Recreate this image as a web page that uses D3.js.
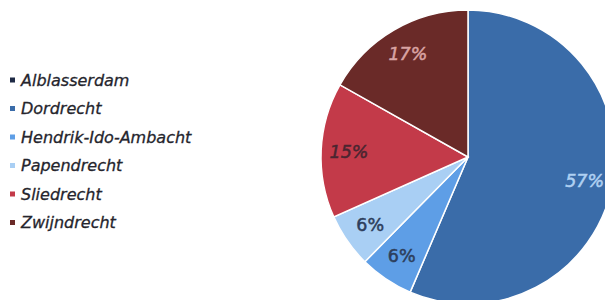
<!DOCTYPE html>
<html>
<head>
<meta charset="utf-8">
<script src="https://d3js.org/d3.v7.min.js"></script>
<style>
body { margin: 0; background: #fff; }
svg { display: block; }
</style>
</head>
<body>
<script>
var width = 605, height = 300;

var gemeenten = ["Alblasserdam", "Dordrecht", "Hendrik-Ido-Ambacht", "Papendrecht", "Sliedrecht", "Zwijndrecht"];
var aandeel = [0, 57, 6, 6, 15, 17];
var labels = ["", "57%", "6%", "6%", "15%", "17%"];
var kleuren = ["#1e2a45", "#3a6ca9", "#5e9ee6", "#a9cff4", "#c33a49", "#6a2a28"];
var labelKleuren = ["#fff", "#afd0f2", "#2d3e5c", "#2d3e5c", "#4a2530", "#d9a3a3"];
var labelSchuin = [true, true, false, false, true, true];

var cx = 468, cy = 157, radius = 147;

var svg = d3.select("body").append("svg")
    .attr("width", width)
    .attr("height", height);

var pie = d3.pie().sort(null).value(function (d) { return d; });
var arc = d3.arc().innerRadius(0).outerRadius(radius);
var labelArc = d3.arc().innerRadius(radius * 0.81).outerRadius(radius * 0.81);

var g = svg.append("g").attr("transform", "translate(" + cx + "," + cy + ")");

var slices = g.selectAll("g.slice")
    .data(pie(aandeel))
    .enter().append("g")
    .attr("class", "slice");

slices.append("path")
    .attr("d", arc)
    .attr("fill", function (d, i) { return kleuren[i]; })
    .attr("stroke", "#fff")
    .attr("stroke-width", 1.5);

// percentages, slightly heavier like the scan
slices.append("text")
    .attr("transform", function (d) { return "translate(" + labelArc.centroid(d) + ")"; })
    .attr("text-anchor", "middle")
    .attr("dy", "0.35em")
    .style("font-family", "DejaVu Sans, Verdana, sans-serif")
    .style("font-style", function (d, i) { return labelSchuin[i] ? "italic" : "normal"; })
    .style("font-size", "17.5px")
    .attr("fill", function (d, i) { return labelKleuren[i]; })
    .attr("stroke", function (d, i) { return labelKleuren[i]; })
    .attr("stroke-width", 0.5)
    .text(function (d, i) { return labels[i]; });

// legend
var legend = svg.append("g").attr("transform", "translate(10,0)");
var items = legend.selectAll("g")
    .data(gemeenten)
    .enter().append("g")
    .attr("transform", function (d, i) { return "translate(0," + (80 + i * 28.5) + ")"; });

items.append("rect")
    .attr("x", 0).attr("y", -2.5)
    .attr("width", 5).attr("height", 5)
    .attr("fill", function (d, i) { return kleuren[i]; });

items.append("text")
    .attr("x", 11)
    .attr("dy", "0.35em")
    .style("font-family", "DejaVu Sans, Verdana, sans-serif")
    .style("font-style", "italic")
    .style("font-size", "16px")
    .attr("fill", "#25252d")
    .attr("stroke", "#25252d")
    .attr("stroke-width", 0.3)
    .text(function (d) { return d; });
</script>
</body>
</html>
